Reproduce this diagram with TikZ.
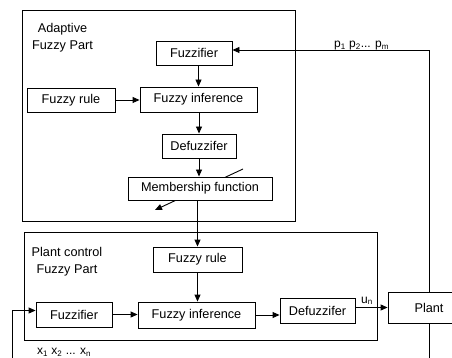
\documentclass[tikz,border=0pt]{standalone}
\usepackage{fontspec}
\setmainfont{Liberation Sans}
\usetikzlibrary{arrows.meta,calc,backgrounds}
\begin{document}
\begin{tikzpicture}[x=1pt,y=-1pt,
  font=\fontsize{12.7}{17}\selectfont,
  blk/.style={draw,line width=0.9pt,fill=white,inner sep=0pt,anchor=center},
  frame/.style={draw,line width=0.9pt,inner sep=0pt,anchor=center},
  arr/.style={line width=0.9pt,-{Triangle[length=7pt,width=6pt]}},
  wire/.style={line width=0.9pt},
  lbl/.style={inner sep=0pt,font=\fontsize{12}{14}\selectfont}]
\useasboundingbox (0,0) rectangle (452,358);
\clip (0,0) rectangle (452,358);

% group frames
\node[frame,minimum width=273,minimum height=211] (adapt) at (158.5,115.5) {};
\node[frame,minimum width=353,minimum height=108] (pctl) at (200.5,286) {};
\node[align=center,inner sep=0pt] (t1) at (62.5,38) {Adaptive\\Fuzzy Part};
\node[align=center,inner sep=0pt] (t2) at (67,261.5) {Plant control\\Fuzzy Part};

% adaptive part
\node[blk,minimum width=76,minimum height=24] (af) at (194,53) {Fuzzifier};
\node[blk,minimum width=88,minimum height=24] (ar) at (71,100) {Fuzzy rule};
\node[blk,minimum width=117,minimum height=25] (ai) at (198.5,99.5) {Fuzzy inference};
\node[blk,minimum width=74,minimum height=24] (ad) at (199,146) {Defuzzifer};
\node[blk,minimum width=144,minimum height=23] (mf) at (200,188.5) {Membership function};

% plant control part
\node[blk,minimum width=89,minimum height=25] (pr) at (197.5,259.5) {Fuzzy rule};
\node[blk,minimum width=117,minimum height=26] (pi) at (196.5,315) {Fuzzy inference};
\node[blk,minimum width=76,minimum height=25] (pf) at (74,314.5) {Fuzzifier};
\node[blk,minimum width=75,minimum height=25] (pd) at (317.5,310.5) {Defuzzifer};
\node[blk,minimum width=82,minimum height=31] (plant) at (429,307.5) {Plant};

% adaptation arrow across the membership block
\coordinate (dtop) at (243,169);
\coordinate (dtip) at (155,210);
\begin{scope}[on background layer]
  \draw[arr] (dtop) -- (dtip);
\end{scope}

% signal flow
\draw[arr] (ai.north |- af.south) -- (ai.north);
\draw[arr] (ar.east) -- (ar.east -| ai.west);
\draw[arr] (ad.north |- ai.south) -- (ad.north);
\draw[arr] (ad.south) -- (ad.south |- mf.north);
\draw[arr] (pr.north |- mf.south) -- (pr.north);
\draw[arr] (pr.south) -- (pr.south |- pi.north);
\draw[arr] (pf.east) -- (pf.east -| pi.west);
\draw[arr] (pi.east) -- (pi.east -| pd.west);
\draw[arr] (plant.west -| pd.east) -- (plant.west);

% feedback loops
\coordinate (ptop) at (429,50);
\draw[arr] (plant.north) -- (ptop) -- (ptop -| af.east);
\coordinate (pbot) at (429,359.5);
\coordinate (pleft) at (12,359.5);
\coordinate (pin) at ($(pf.west)+(0,-4)$);
\draw[arr] (plant.south) -- (pbot) -- (pleft) -- (pleft |- pin) -- (pin);

% signal labels
\node[lbl,anchor=south west] (plbl) at (334,50) {p\textsubscript{1} p\textsubscript{2}... p\textsubscript{m}};
\node[lbl,anchor=south west] (ulbl) at (361,305) {u\textsubscript{n}};
\node[lbl,anchor=south west] (xlbl) at (37,356.5) {x\textsubscript{1} x\textsubscript{2} ... x\textsubscript{n}};
\end{tikzpicture}
\end{document}
